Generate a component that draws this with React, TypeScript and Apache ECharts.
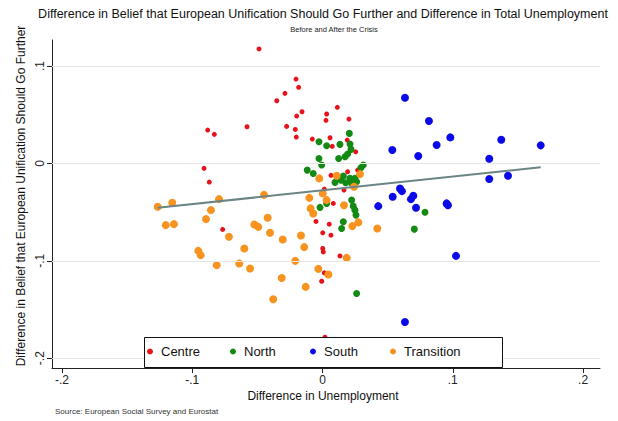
import React, { useEffect, useRef } from "react";
import * as echarts from "echarts";

const FONT = '"Liberation Sans", Arial, Helvetica, sans-serif';

const titleText =
  "Difference in Belief that European Unification Should Go Further and Difference in Total Unemployment";
const subtitleText = "Before and After the Crisis";
const xTitle = "Difference in Unemployment";
const yTitle = "Difference in Belief that European Unification Should Go Further";
const sourceText = "Source: European Social Survey and Eurostat";

const xTicks = [-0.2, -0.1, 0, 0.1, 0.2];
const yTicks = [-0.2, -0.1, 0, 0.1];
const xRange = [-0.2076, 0.213];
const yRange = [-0.2101, 0.1267];

const groupNames = ["Centre", "North", "South", "Transition"];

const centre: number[][] = [
  [-0.0487, 0.1175], [-0.0203, 0.0866], [-0.0183, 0.0781], [-0.0288, 0.0719],
  [-0.0351, 0.0643], [-0.0157, 0.053], [-0.0198, 0.0486], [0.0032, 0.0507],
  [0.0114, 0.0576], [0.0027, 0.0442], [0.0203, 0.0455], [-0.0881, 0.0342],
  [-0.083, 0.0298], [-0.0579, 0.0376], [-0.0275, 0.038], [-0.0209, 0.0349],
  [-0.0201, 0.027], [-0.0078, 0.025], [0.0058, 0.0263], [0.0075, 0.0175],
  [0.0134, 0.0191], [0.019, 0.0239], [0.0255, 0.0119], [-0.0909, -0.0051],
  [-0.0869, -0.0192], [0.0065, -0.0123], [0.0193, -0.0086], [0.027, -0.0069],
  [0.0165, -0.0274], [0.0014, -0.0264], [0.0083, -0.0411], [-0.005, -0.0596],
  [0.0052, -0.0624], [0.0065, -0.0737], [0.0002, -0.0713], [0.0002, -0.0874],
  [0.0006, -0.0909], [0.0134, -0.095], [0.0014, -0.1124], [-0.0006, -0.121],
  [-0.0766, -0.0678], [0.0019, -0.1785],
];

const north: number[][] = [
  [0.0206, 0.0308], [-0.0027, 0.0222], [0.0032, 0.0181], [0.0134, 0.0195],
  [0.0211, 0.0198], [0.0219, 0.0144], [0.0193, 0.0096], [0.0173, 0.0068],
  [-0.0027, 0.0051], [0.0124, 0.0051], [-0.0006, -0.0017], [-0.0117, -0.0069],
  [-0.0071, -0.0103], [0.0313, -0.0017], [0.0295, -0.0045], [0.016, -0.0131],
  [0.0211, -0.0154], [0.0249, -0.0154], [0.0096, -0.0195], [0.0178, -0.0199],
  [0.0224, -0.0206], [0.0262, -0.0189], [0.0142, -0.0172], [0.0224, -0.0377],
  [0.0236, -0.0439], [0.0032, -0.0411], [-0.0019, -0.0452], [0.0249, -0.048],
  [0.0257, -0.0531], [0.016, -0.06], [0.0147, -0.0668], [0.0262, -0.1336],
  [0.0787, -0.0501], [0.0705, -0.0675],
];

const south: number[][] = [
  [0.0633, 0.0674], [0.0817, 0.0435], [0.0981, 0.0267], [0.0876, 0.0188],
  [0.1372, 0.0243], [0.1675, 0.0185], [0.0536, 0.0137], [0.0735, 0.0075],
  [0.128, 0.0047], [0.128, -0.0161], [0.1424, -0.0127], [0.0595, -0.0257],
  [0.061, -0.0285], [0.0539, -0.0343], [0.0697, -0.0333], [0.0679, -0.0367],
  [0.0718, -0.0456], [0.0428, -0.0439], [0.0953, -0.0411], [0.0963, -0.0429],
  [0.1025, -0.095], [0.0633, -0.1628],
];

const transition: number[][] = [
  [-0.1265, -0.0446], [-0.1153, -0.0405], [-0.0794, -0.0367], [-0.0449, -0.0323],
  [-0.0856, -0.048], [-0.0894, -0.0572], [-0.1203, -0.0634], [-0.114, -0.0624],
  [-0.0718, -0.0754], [-0.0523, -0.0627], [-0.0493, -0.0652], [-0.0421, -0.0559],
  [-0.0403, -0.0713], [-0.0305, -0.0781], [-0.0165, -0.074], [-0.014, -0.086],
  [-0.06, -0.0874], [-0.0953, -0.0898], [-0.0935, -0.0942], [-0.0812, -0.1045],
  [-0.0639, -0.1028], [-0.0556, -0.1079], [-0.0209, -0.1001], [-0.0313, -0.1176],
  [-0.0032, -0.1083], [0.0045, -0.1141], [-0.0129, -0.1268], [-0.0378, -0.1395],
  [0.0186, -0.097], [-0.0101, -0.0354], [-0.0091, -0.0462], [-0.0071, -0.0514],
  [0.0002, -0.0308], [-0.0025, -0.0154], [0.0109, -0.0127], [0.0165, -0.0429],
  [0.0229, -0.0644], [0.0275, -0.0606], [0.0421, -0.0668], [0.0242, -0.024],
  [0.0288, -0.011], [0.0032, -0.0377],
];

const fitIntercept = -0.0277;
const fitSlope = 0.141;

const groupColors = ["#e8121a", "#138a13", "#0a0ae8", "#f7931e"];
const groupSizes = [5, 7, 8, 8];

// legend layout (pixel positions of each key's left edge)
const legendItemLefts = [147, 230, 310, 390];

function fmtTick(v: number): string {
  if (Math.abs(v) < 1e-9) return "0";
  const s = String(Math.round(Math.abs(v) * 1000) / 1000).replace(/^0/, "");
  return (v < 0 ? "-" : "") + s;
}

export default function App() {
  const ref = useRef<HTMLDivElement>(null);

  useEffect(() => {
    if (!ref.current) return;
    const chart = echarts.init(ref.current, undefined, { renderer: "svg" });

    const groups = [centre, north, south, transition];
    const allX = groups.flat().map((p) => p[0]);
    const xMin = Math.min(...allX);
    const xMax = Math.max(...allX);
    const fitData = [
      [xMin, fitIntercept + fitSlope * xMin],
      [xMax, fitIntercept + fitSlope * xMax],
    ];

    const scatterSeries = groups.map((g, i) => ({
      name: groupNames[i],
      type: "scatter",
      data: g,
      symbol: "circle",
      symbolSize: groupSizes[i],
      itemStyle: { color: groupColors[i], opacity: 1 },
      z: 2,
      silent: true,
    }));

    const legends = groupNames.map((name, i) => ({
      data: [name],
      left: legendItemLefts[i],
      top: 345,
      orient: "horizontal",
      icon: "circle",
      itemWidth: 12,
      itemHeight: 6,
      padding: 0,
      selectedMode: false,
      textStyle: { fontSize: 13, color: "#111", fontFamily: FONT },
      z: 10,
    }));

    chart.setOption({
      animation: false,
      backgroundColor: "#ffffff",
      textStyle: { fontFamily: FONT },
      grid: { left: 52, top: 40, right: 18, bottom: 53, containLabel: false },
      xAxis: {
        type: "value",
        min: xRange[0],
        max: xRange[1],
        splitLine: { show: false },
        axisLine: { show: true, onZero: false, lineStyle: { color: "#222", width: 1 } },
        axisTick: { show: true, customValues: xTicks, length: 5, lineStyle: { color: "#222" } },
        axisLabel: {
          customValues: xTicks,
          formatter: (v: number) => fmtTick(v),
          fontSize: 12,
          color: "#222",
          fontFamily: FONT,
          margin: 6,
        },
      },
      yAxis: {
        type: "value",
        min: yRange[0],
        max: yRange[1],
        splitLine: { show: false },
        axisLine: { show: true, onZero: false, lineStyle: { color: "#222", width: 1 } },
        axisTick: { show: true, customValues: yTicks, length: 5, lineStyle: { color: "#222" } },
        axisLabel: {
          customValues: yTicks,
          formatter: (v: number) => fmtTick(v),
          rotate: 90,
          fontSize: 12,
          color: "#222",
          fontFamily: FONT,
          margin: 6,
        },
      },
      legend: legends,
      series: [
        {
          name: "grid",
          type: "scatter",
          data: [],
          silent: true,
          z: 1,
          markLine: {
            silent: true,
            symbol: ["none", "none"],
            label: { show: false },
            lineStyle: { color: "#e6e6e6", width: 1, type: "solid" },
            data: yTicks.map((t) => ({ yAxis: t })),
            animation: false,
          },
        },
        ...scatterSeries,
        {
          name: "Fitted values",
          type: "line",
          data: fitData,
          symbol: "none",
          lineStyle: { color: "#6b8585", width: 2 },
          z: 3,
          silent: true,
        },
      ],
      graphic: [
        {
          type: "rect",
          z: 8,
          shape: { x: 144.5, y: 337.5, width: 358, height: 30 },
          style: { fill: "#ffffff", stroke: "#111", lineWidth: 1 },
          silent: true,
        },
        {
          type: "text",
          x: 323,
          y: 14,
          style: {
            text: titleText,
            fontSize: 12.5,
            fontFamily: FONT,
            fill: "#111",
            align: "center",
            verticalAlign: "middle",
          },
        },
        {
          type: "text",
          x: 334,
          y: 29,
          style: {
            text: subtitleText,
            fontSize: 7.5,
            fontFamily: FONT,
            fill: "#222",
            align: "center",
            verticalAlign: "middle",
          },
        },
        {
          type: "text",
          x: 21,
          y: 196,
          rotation: Math.PI / 2,
          style: {
            text: yTitle,
            fontSize: 12,
            fontFamily: FONT,
            fill: "#111",
            align: "center",
            verticalAlign: "middle",
          },
        },
        {
          type: "text",
          x: 323,
          y: 396,
          style: {
            text: xTitle,
            fontSize: 12,
            fontFamily: FONT,
            fill: "#111",
            align: "center",
            verticalAlign: "middle",
          },
        },
        {
          type: "text",
          x: 55,
          y: 411,
          style: {
            text: sourceText,
            fontSize: 8,
            fontFamily: FONT,
            fill: "#333",
            align: "left",
            verticalAlign: "middle",
          },
        },
      ],
    });

    return () => chart.dispose();
  }, []);

  return (
    <div
      ref={ref}
      style={{ position: "fixed", left: 0, top: 0, width: 618, height: 421, background: "#fff" }}
    />
  );
}
